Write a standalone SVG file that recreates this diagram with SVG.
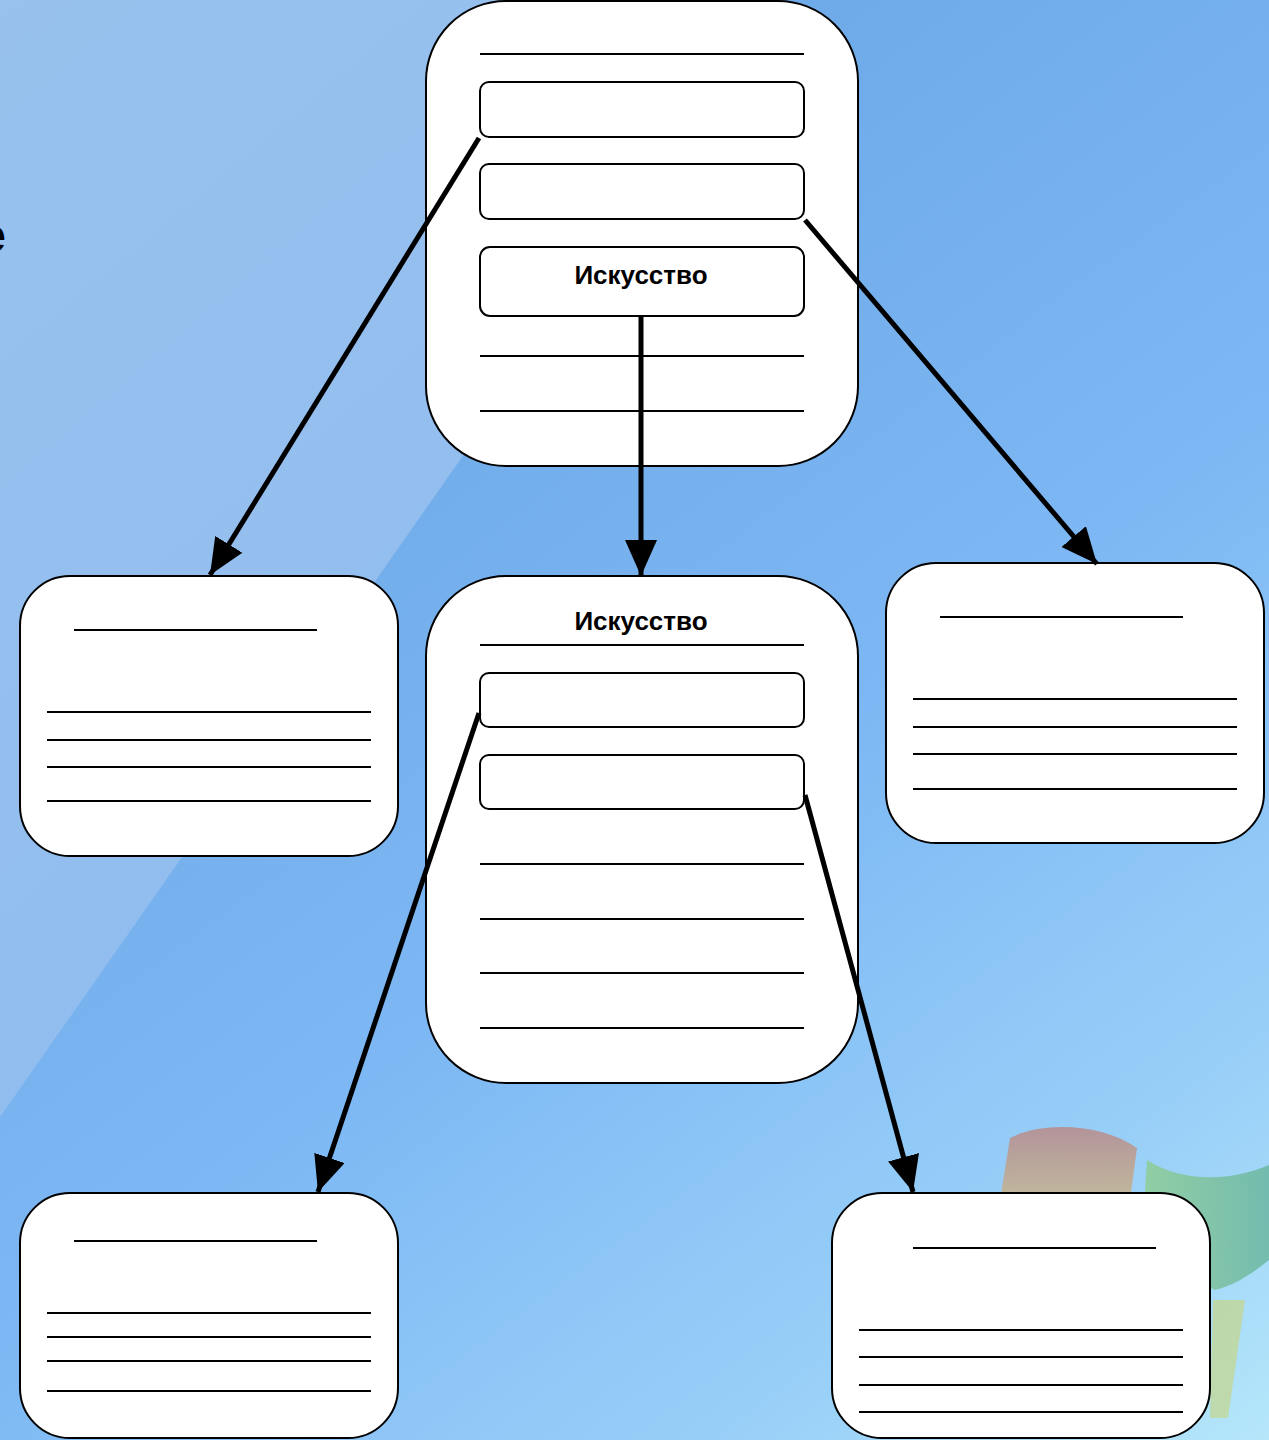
<svg xmlns="http://www.w3.org/2000/svg" width="1269" height="1440" viewBox="0 0 1269 1440">
<style>
.node{fill:#fff;stroke:#000;stroke-width:2}
.box{fill:#fff;stroke:#000;stroke-width:2}
.ln{stroke:#000;stroke-width:2}
.lbl{font-family:"Liberation Sans",Arial,sans-serif;font-weight:bold;font-size:26px;fill:#000;text-anchor:middle}
.arr{stroke:#000;stroke-width:5;fill:none;marker-end:url(#ah)}
</style>
<defs>
<linearGradient id="bg" x1="0.35" y1="0" x2="1" y2="1">
<stop offset="0" stop-color="#6aa5e4"/>
<stop offset="0.5" stop-color="#7db8f4"/>
<stop offset="0.8" stop-color="#98cff8"/>
<stop offset="1" stop-color="#b5e6fa"/>
</linearGradient>
<linearGradient id="lt" x1="0" y1="0" x2="0.6" y2="1">
<stop offset="0" stop-color="#98c1ee"/>
<stop offset="1" stop-color="#8fbcef"/>
</linearGradient>
<linearGradient id="red" x1="0" y1="0" x2="0" y2="1">
<stop offset="0" stop-color="#b88a8a"/>
<stop offset="1" stop-color="#c8b48c"/>
</linearGradient>
<linearGradient id="green" x1="0" y1="0" x2="1" y2="0">
<stop offset="0" stop-color="#8fce8e"/>
<stop offset="1" stop-color="#68b49c"/>
</linearGradient>
<marker id="ah" markerUnits="userSpaceOnUse" markerWidth="36" markerHeight="32" refX="36" refY="16" orient="auto">
<path d="M0,0 L36,16 L0,32 z" fill="#000"/>
</marker>
</defs>
<g id="background">
<rect x="0" y="0" width="1269" height="1440" fill="url(#bg)"/>
<polygon points="0,0 782,0 0,1117" fill="url(#lt)"/>
<path d="M1010,1138 C1040,1122 1100,1122 1137,1148 L1130,1200 L1000,1200 Z" fill="url(#red)" opacity="0.85"/>
<path d="M1147,1160 C1180,1182 1230,1182 1269,1165 L1269,1260 C1250,1275 1235,1285 1215,1290 C1195,1280 1170,1272 1140,1268 Z" fill="url(#green)" opacity="0.8"/>
<path d="M1213,1300 L1245,1300 L1228,1418 L1210,1418 Z" fill="#c4d58a" opacity="0.7"/>
<text x="6" y="252" font-family="Liberation Sans,Arial,sans-serif" font-weight="bold" font-size="48" text-anchor="end" fill="#000">е</text>
</g>
<g id="node-top">
<rect class="node" x="426" y="1" width="432" height="465" rx="80" ry="80"/>
<line class="ln" x1="480" y1="54" x2="804" y2="54"/>
<rect class="box" x="480" y="82" width="324" height="55" rx="9"/>
<rect class="box" x="480" y="164" width="324" height="55" rx="9"/>
<rect class="box" x="480" y="247" width="324" height="69" rx="10"/>
<text class="lbl" x="641" y="284">Искусство</text>
<line class="ln" x1="480" y1="356" x2="804" y2="356"/>
<line class="ln" x1="480" y1="411" x2="804" y2="411"/>
</g>
<g id="node-left">
<rect class="node" x="20" y="576" width="378" height="280" rx="50" ry="50"/>
<line class="ln" x1="74" y1="630" x2="317" y2="630"/>
<line class="ln" x1="47" y1="712" x2="371" y2="712"/>
<line class="ln" x1="47" y1="740" x2="371" y2="740"/>
<line class="ln" x1="47" y1="767" x2="371" y2="767"/>
<line class="ln" x1="47" y1="801" x2="371" y2="801"/>
</g>
<g id="node-center">
<rect class="node" x="426" y="576" width="432" height="507" rx="80" ry="80"/>
<text class="lbl" x="641" y="630">Искусство</text>
<line class="ln" x1="480" y1="645" x2="804" y2="645"/>
<rect class="box" x="480" y="673" width="324" height="54" rx="9"/>
<rect class="box" x="480" y="755" width="324" height="54" rx="9"/>
<line class="ln" x1="480" y1="864" x2="804" y2="864"/>
<line class="ln" x1="480" y1="919" x2="804" y2="919"/>
<line class="ln" x1="480" y1="973" x2="804" y2="973"/>
<line class="ln" x1="480" y1="1028" x2="804" y2="1028"/>
</g>
<g id="node-right">
<rect class="node" x="886" y="563" width="378" height="280" rx="50" ry="50"/>
<line class="ln" x1="940" y1="617" x2="1183" y2="617"/>
<line class="ln" x1="913" y1="699" x2="1237" y2="699"/>
<line class="ln" x1="913" y1="727" x2="1237" y2="727"/>
<line class="ln" x1="913" y1="754" x2="1237" y2="754"/>
<line class="ln" x1="913" y1="789" x2="1237" y2="789"/>
</g>
<g id="node-bottom-left">
<rect class="node" x="20" y="1193" width="378" height="245" rx="50" ry="50"/>
<line class="ln" x1="74" y1="1241" x2="317" y2="1241"/>
<line class="ln" x1="47" y1="1313" x2="371" y2="1313"/>
<line class="ln" x1="47" y1="1337" x2="371" y2="1337"/>
<line class="ln" x1="47" y1="1361" x2="371" y2="1361"/>
<line class="ln" x1="47" y1="1391" x2="371" y2="1391"/>
</g>
<g id="node-bottom-right">
<rect class="node" x="832" y="1193" width="378" height="245" rx="50" ry="50"/>
<line class="ln" x1="913" y1="1248" x2="1156" y2="1248"/>
<line class="ln" x1="859" y1="1330" x2="1183" y2="1330"/>
<line class="ln" x1="859" y1="1357" x2="1183" y2="1357"/>
<line class="ln" x1="859" y1="1385" x2="1183" y2="1385"/>
<line class="ln" x1="859" y1="1412" x2="1183" y2="1412"/>
</g>
<g id="connectors">
<line class="arr" x1="479" y1="138" x2="210" y2="575"/>
<line class="arr" x1="641" y1="316" x2="641" y2="576"/>
<line class="arr" x1="805" y1="220" x2="1097" y2="564"/>
<line class="arr" x1="479" y1="713" x2="318" y2="1192"/>
<line class="arr" x1="805" y1="795" x2="913" y2="1192"/>
</g>
</svg>
